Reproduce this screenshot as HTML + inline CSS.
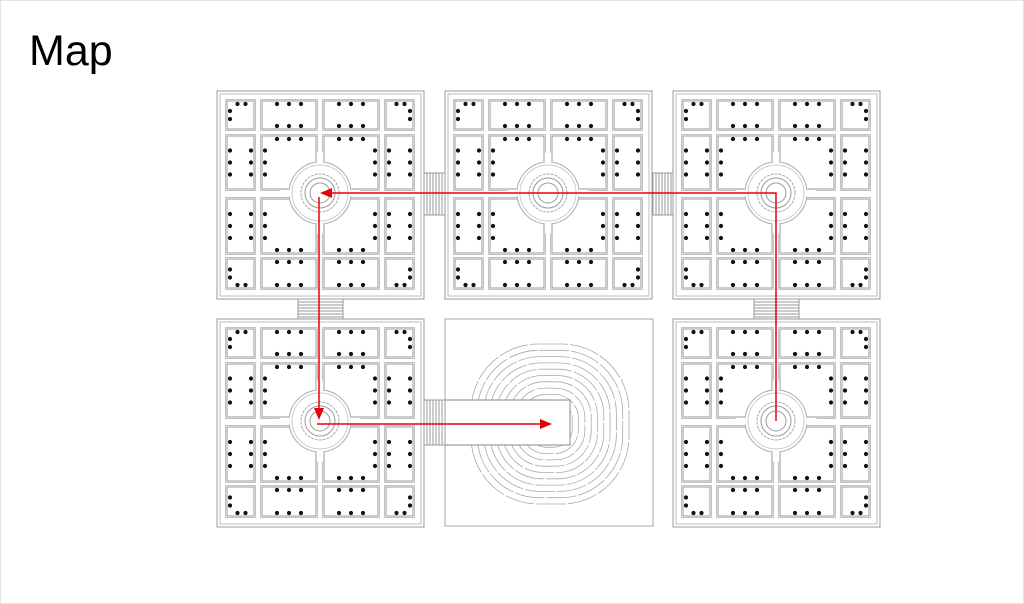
<!DOCTYPE html>
<html><head><meta charset="utf-8"><style>
html,body{margin:0;padding:0;background:#fff;}
#wrap{position:relative;width:1024px;height:604px;overflow:hidden;box-sizing:border-box;border:1px solid #e4e4e4;}
#t{position:absolute;left:28px;top:26px;font:43px "Liberation Sans",sans-serif;color:#000;}
svg{position:absolute;left:0;top:0;}
</style></head><body><div id="wrap"><div id="t">Map</div>
<svg id="s" width="1024" height="604" xmlns="http://www.w3.org/2000/svg"></svg></div>
<script>
var s=document.getElementById('s'),h='';
function R(x,y,w,hh,st,f,sw,extra){h+='<rect x="'+x+'" y="'+y+'" width="'+w+'" height="'+hh+'" fill="'+(f||'none')+'" stroke="'+st+'" stroke-width="'+(sw||1)+'" '+(extra||'')+'/>';}
function D(x,y){h+='<circle cx="'+x+'" cy="'+y+'" r="2.1" fill="#111"/>';}
function C(x,y,r,st,f,ex){h+='<circle cx="'+x+'" cy="'+y+'" r="'+r+'" fill="'+(f||'none')+'" stroke="'+st+'" stroke-width="1" '+(ex||'')+'/>';}
var cols=[[10,37],[45,99],[107,161],[169,196]],rows=[[10,38],[45,98],[108,162],[168,197]];
function block(X,Y){
 R(X,Y,207,208,'#999','#fff');R(X+3,Y+3,201,202,'#bbb');
 for(var i=0;i<4;i++)for(var j=0;j<4;j++){
  var x0=X+cols[i][0],x1=X+cols[i][1],y0=Y+rows[j][0],y1=Y+rows[j][1];
  R(x0-1.5,y0-1.5,x1-x0+3,y1-y0+3,'#c4c4c4');R(x0,y0,x1-x0,y1-y0,'#999');
  var cx=(x0+x1)/2,cy=(y0+y1)/2,k;
  var edgeI=(i==0||i==3),edgeJ=(j==0||j==3);
  if(edgeI&&edgeJ){
   var ty=(j==0?y0+3:y1-3),lx=(i==0?x0+3:x1-3);
   D(cx-3,ty);D(cx+5,ty);D(lx,cy-4);D(lx,cy+4);
  }else if(edgeJ){for(k=-1;k<=1;k++){D(cx+k*12,y0+3);D(cx+k*12,y1-3);}}
  else if(edgeI){for(k=-1;k<=1;k++){D(x0+3,cy+k*12);D(x1-3,cy+k*12);}}
  else{
   var yy=(j==1?y0+3:y1-3),xx=(i==1?x0+3:x1-3);
   for(k=-1;k<=1;k++){D(cx+k*12,yy);D(xx,cy+k*12);}
  }
 }
 var cx=X+103,cy=Y+102;
 C(cx,cy,31,'#aaa','#fff');C(cx,cy,28,'#ccc');
 R(cx-3,cy-40,6,9,'#fff','#fff');R(cx-3,cy+31,6,9,'#fff','#fff');R(cx-40,cy-3,9,6,'#fff','#fff');R(cx+31,cy-3,9,6,'#fff','#fff');
 C(cx,cy,19,'#aaa','none','stroke-dasharray="3 1"');C(cx,cy,15,'#999');C(cx,cy,10,'#999');
}
function stairsH(x,y,w,hh){R(x,y,w,hh,'#999','#fff');for(var i=x+3;i<x+w;i+=3)h+='<line x1="'+i+'" y1="'+y+'" x2="'+i+'" y2="'+(y+hh)+'" stroke="#999"/>';}
function stairsV(x,y,w,hh){R(x,y,w,hh,'#999','#fff');for(var i=y+3;i<y+hh;i+=3)h+='<line x1="'+x+'" y1="'+i+'" x2="'+(x+w)+'" y2="'+i+'" stroke="#999"/>';}
block(216,90);block(444,90);block(672,90);block(216,318);block(672,318);
stairsH(423,172,21,42);stairsH(652,172,20,42);
stairsV(297,298,45,20);stairsV(753,298,45,20);
R(444,318,208,207,'#aaa','#fff');
for(var n=0;n<12;n++){var rx=79-n*6.3,ry=80-n*6.3;h+='<rect x="'+(549-rx)+'" y="'+(423-ry)+'" width="'+2*rx+'" height="'+2*ry+'" rx="'+rx*0.85+'" fill="none" stroke="#aaa" stroke-width="0.8" stroke-dasharray="30 2"/>';}
R(444,399,125,45,'#888','#fff');stairsH(423,399,21,45);
var red='#e8000b';
h+='<polyline points="775,420 775,192 330,192" fill="none" stroke="'+red+'" stroke-width="1.5"/>';
h+='<polygon points="319,192 331,187 331,197" fill="'+red+'"/>';
h+='<line x1="318" y1="196" x2="318" y2="408" stroke="'+red+'" stroke-width="1.5"/>';
h+='<polygon points="318,419 313,407 323,407" fill="'+red+'"/>';
h+='<line x1="316" y1="423" x2="540" y2="423" stroke="'+red+'" stroke-width="1.5"/>';
h+='<polygon points="551,423 539,418 539,428" fill="'+red+'"/>';
s.innerHTML=h;
</script></body></html>
